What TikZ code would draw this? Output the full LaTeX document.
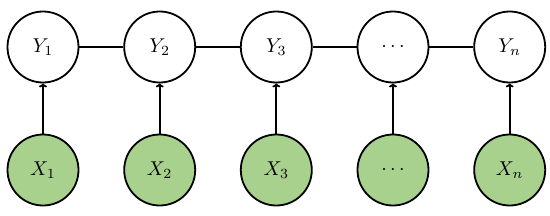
\documentclass[tikz,border=0pt]{standalone}
\usepackage{graphicx}
\usetikzlibrary{arrows.meta}
\definecolor{obsgreen}{HTML}{A9D18E}
\newcommand{\lbl}[1]{\scalebox{2.0}{$#1$}}
\begin{document}
\begin{tikzpicture}[x=1pt,y=-1pt,
  hid/.style={circle,draw=black,line width=1.8pt,fill=white,minimum size=71pt,inner sep=0pt},
  obs/.style={hid,fill=obsgreen},
  link/.style={line width=1.8pt},
  arr/.style={line width=1.8pt,-{To[length=4pt,width=8pt]}}]
\useasboundingbox (0,0) rectangle (550,215);
\node[hid] (y1) at (43,47) {\lbl{Y_1}};
\node[hid] (y2) at (159.7,47) {\lbl{Y_2}};
\node[hid] (y3) at (276.3,47) {\lbl{Y_3}};
\node[hid] (y4) at (393,47) {\lbl{\cdots}};
\node[hid] (y5) at (509.7,47) {\lbl{Y_n}};
\node[obs] (x1) at (43,170) {\lbl{X_1}};
\node[obs] (x2) at (159.7,170) {\lbl{X_2}};
\node[obs] (x3) at (276.3,170) {\lbl{X_3}};
\node[obs] (x4) at (393,170) {\lbl{\cdots}};
\node[obs] (x5) at (509.7,170) {\lbl{X_n}};
\draw[link] (y1) -- (y2);
\draw[link] (y2) -- (y3);
\draw[link] (y3) -- (y4);
\draw[link] (y4) -- (y5);
\foreach \i in {1,...,5} \draw[arr] (x\i) -- (y\i);
\end{tikzpicture}
\end{document}
